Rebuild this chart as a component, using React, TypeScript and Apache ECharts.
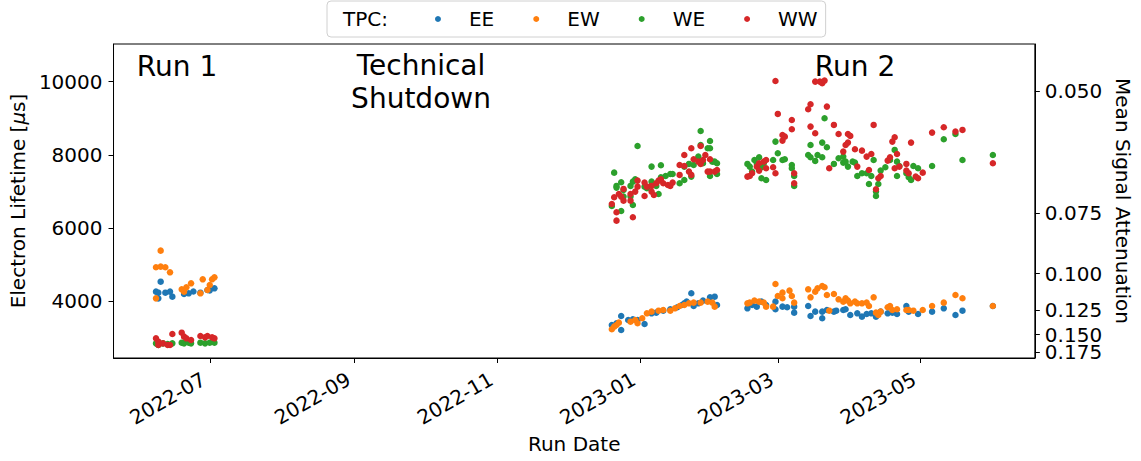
import React, { useEffect, useRef } from "react";
import * as echarts from "echarts";

const FONT = "DejaVu Sans";

// ---- data (date, electron lifetime in µs) ----
const eeRun1: [string, number][] = [
  ["2022-06-10", 4528], ["2022-06-08", 4255], ["2022-06-09", 4227], ["2022-06-12", 4227],
  ["2022-06-09", 4072], ["2022-06-15", 4118], ["2022-06-14", 4255], ["2022-06-20", 4191],
  ["2022-06-22", 4209], ["2022-06-27", 4227], ["2022-06-30", 4300], ["2022-07-03", 4346],
  ["2022-06-24", 4260], ["2022-07-01", 4290],
];
const eeRun2: [string, number][] = [
  ["2022-12-20", 3343], ["2022-12-22", 3389], ["2022-12-24", 3589], ["2022-12-24", 3206],
  ["2022-12-27", 3480], ["2022-12-29", 3498], ["2022-12-31", 3480], ["2023-01-03", 3371],
  ["2023-01-06", 3662], ["2023-01-08", 3681], ["2023-01-11", 3735], ["2023-01-14", 3772],
  ["2023-01-17", 3827], ["2023-01-19", 3890], ["2023-01-20", 3936], ["2023-01-21", 3982],
  ["2023-01-23", 4210], ["2023-01-24", 3863], ["2023-01-26", 3936], ["2023-01-28", 4009],
  ["2023-01-31", 4100], ["2023-02-02", 4118], ["2023-02-03", 3890],
  ["2023-02-16", 3799], ["2023-02-18", 3890], ["2023-02-20", 3845], ["2023-02-22", 3982],
  ["2023-02-24", 3890], ["2023-02-28", 3982], ["2023-02-28", 3772], ["2023-03-03", 3845],
  ["2023-03-05", 3827], ["2023-03-08", 3845], ["2023-03-08", 3681], ["2023-03-14", 3863],
  ["2023-03-15", 3589], ["2023-03-17", 3708], ["2023-03-20", 3708], ["2023-03-20", 3526],
  ["2023-03-22", 3754], ["2023-03-25", 3708], ["2023-03-26", 3735], ["2023-03-29", 3754],
  ["2023-03-30", 3772], ["2023-04-01", 3617], ["2023-04-04", 3662], ["2023-04-06", 3571],
  ["2023-04-08", 3644], ["2023-04-10", 3662], ["2023-04-12", 3571], ["2023-04-14", 3708],
  ["2023-04-17", 3662], ["2023-04-19", 3681], ["2023-04-21", 3644], ["2023-04-25", 3863],
  ["2023-04-26", 3708], ["2023-04-30", 3644], ["2023-05-06", 3708], ["2023-05-11", 3799],
  ["2023-05-16", 3617], ["2023-05-19", 3735], ["2023-06-01", 3863],
];

const ewRun1: [string, number][] = [
  ["2022-06-10", 5377], ["2022-06-08", 4921], ["2022-06-10", 4939], ["2022-06-12", 4921],
  ["2022-06-14", 4784], ["2022-06-08", 4072], ["2022-06-19", 4319], ["2022-06-21", 4373],
  ["2022-06-23", 4483], ["2022-06-28", 4592], ["2022-07-02", 4592], ["2022-07-03", 4647],
  ["2022-07-01", 4437], ["2022-06-30", 4300], ["2022-06-27", 4209], ["2022-06-20", 4255],
];
const ewRun2: [string, number][] = [
  ["2022-12-20", 3225], ["2022-12-21", 3298], ["2022-12-22", 3343], ["2022-12-23", 3407],
  ["2022-12-28", 3434], ["2022-12-30", 3480], ["2022-12-31", 3389], ["2023-01-02", 3526],
  ["2023-01-04", 3662], ["2023-01-06", 3708], ["2023-01-09", 3735], ["2023-01-11", 3754],
  ["2023-01-14", 3735], ["2023-01-16", 3799], ["2023-01-18", 3863], ["2023-01-20", 3890],
  ["2023-01-22", 3936], ["2023-01-24", 3954], ["2023-01-27", 3954], ["2023-01-30", 3982],
  ["2023-02-01", 3954], ["2023-02-02", 3845],
  ["2023-02-16", 3936], ["2023-02-17", 3954], ["2023-02-19", 4009], ["2023-02-21", 3982],
  ["2023-02-23", 3954], ["2023-02-24", 3845], ["2023-02-27", 3845], ["2023-02-28", 4465],
  ["2023-03-01", 4137], ["2023-03-03", 4228], ["2023-03-03", 4073], ["2023-03-06", 4283],
  ["2023-03-07", 4137], ["2023-03-08", 3954], ["2023-03-14", 4319], ["2023-03-15", 4100],
  ["2023-03-17", 4255], ["2023-03-18", 4346], ["2023-03-20", 4410], ["2023-03-21", 4374],
  ["2023-03-22", 4164], ["2023-03-23", 3735], ["2023-03-25", 4191], ["2023-03-27", 4045],
  ["2023-03-29", 3982], ["2023-03-30", 4073], ["2023-03-31", 4009], ["2023-04-01", 3936],
  ["2023-04-03", 3982], ["2023-04-04", 3936], ["2023-04-06", 3936], ["2023-04-08", 3954],
  ["2023-04-09", 3863], ["2023-04-11", 4100], ["2023-04-12", 3681], ["2023-04-13", 3617],
  ["2023-04-14", 3708], ["2023-04-17", 3827], ["2023-04-18", 3863], ["2023-04-19", 3754],
  ["2023-04-21", 3772], ["2023-04-25", 3754], ["2023-04-26", 3754], ["2023-04-28", 3735],
  ["2023-05-02", 3754], ["2023-05-06", 3863], ["2023-05-11", 3954], ["2023-05-16", 4164],
  ["2023-05-19", 4073], ["2023-06-01", 3863],
];

const weRun1: [string, number][] = [
  ["2022-06-08", 2841], ["2022-06-09", 2796], ["2022-06-11", 2841], ["2022-06-13", 2820],
  ["2022-06-15", 2841], ["2022-06-19", 2859], ["2022-06-20", 2841], ["2022-06-22", 2859],
  ["2022-06-23", 2841], ["2022-06-27", 2859], ["2022-06-29", 2841], ["2022-07-01", 2859],
  ["2022-07-03", 2859],
];
const weRun2: [string, number][] = [
  ["2022-12-21", 7511], ["2022-12-22", 7147], ["2022-12-22", 7101], ["2022-12-24", 7247],
  ["2022-12-25", 7037], ["2022-12-25", 6855], ["2022-12-24", 6463], ["2022-12-20", 6599],
  ["2022-12-28", 7147], ["2022-12-29", 7265], ["2022-12-30", 7329], ["2022-12-31", 8241],
  ["2022-12-28", 6855], ["2022-12-29", 6627], ["2023-01-03", 7128], ["2023-01-04", 7083],
  ["2023-01-06", 7676], ["2023-01-06", 7265], ["2023-01-08", 7147], ["2023-01-09", 6928],
  ["2023-01-10", 7712], ["2023-01-10", 7384], ["2023-01-12", 7420], ["2023-01-14", 7475],
  ["2023-01-15", 7475], ["2023-01-18", 7220], ["2023-01-20", 7311], ["2023-01-20", 7676],
  ["2023-01-22", 7749], ["2023-01-23", 7402], ["2023-01-24", 7721], ["2023-01-26", 7949],
  ["2023-01-27", 8651], ["2023-01-27", 8268], ["2023-01-28", 7767], ["2023-01-30", 8177],
  ["2023-01-31", 8378], ["2023-01-31", 8177], ["2023-02-01", 7812], ["2023-02-02", 7812],
  ["2023-02-03", 7767], ["2023-01-31", 7420], ["2023-02-03", 7475],
  ["2023-02-16", 7749], ["2023-02-17", 7676], ["2023-02-18", 7539], ["2023-02-19", 7858],
  ["2023-02-21", 7931], ["2023-02-20", 7767], ["2023-02-22", 7356], ["2023-02-24", 7311],
  ["2023-02-22", 7657], ["2023-02-23", 7767], ["2023-02-27", 7858], ["2023-02-28", 8360],
  ["2023-03-01", 8040], ["2023-03-03", 7858], ["2023-03-04", 7876], ["2023-03-07", 7721],
  ["2023-03-07", 7630], ["2023-03-08", 7420], ["2023-03-08", 7147], ["2023-03-14", 7995],
  ["2023-03-15", 7931], ["2023-03-15", 8268], ["2023-03-17", 7831], ["2023-03-18", 7995],
  ["2023-03-20", 7931], ["2023-03-20", 8332], ["2023-03-22", 8205], ["2023-03-21", 8998],
  ["2023-03-25", 7749], ["2023-03-27", 7904], ["2023-03-29", 7949], ["2023-03-29", 7785],
  ["2023-03-30", 7812], ["2023-03-31", 7676], ["2023-04-02", 7812], ["2023-04-04", 7420],
  ["2023-04-03", 7785], ["2023-04-06", 7493], ["2023-04-08", 7493], ["2023-04-09", 7201],
  ["2023-04-10", 7420], ["2023-04-11", 7858], ["2023-04-12", 6992], ["2023-04-12", 6873],
  ["2023-04-13", 7201], ["2023-04-14", 7566], ["2023-04-16", 7657], ["2023-04-18", 7858],
  ["2023-04-20", 8132], ["2023-04-21", 7812], ["2023-04-22", 7694], ["2023-04-21", 7420],
  ["2023-04-25", 7493], ["2023-04-26", 7384], ["2023-04-27", 7311], ["2023-04-28", 7694],
  ["2023-04-30", 7630], ["2023-05-06", 7694], ["2023-05-11", 8423], ["2023-05-16", 8569],
  ["2023-05-19", 7858], ["2023-06-01", 7995],
];

const wwRun1: [string, number][] = [
  ["2022-06-08", 2978], ["2022-06-09", 2887], ["2022-06-09", 2796], ["2022-06-11", 2841],
  ["2022-06-13", 2796], ["2022-06-14", 2796], ["2022-06-15", 3097], ["2022-06-19", 3133],
  ["2022-06-20", 3024], ["2022-06-21", 2978], ["2022-06-23", 2932], ["2022-06-27", 3042],
  ["2022-06-29", 3005], ["2022-06-30", 3042], ["2022-07-02", 3005], ["2022-07-03", 2978],
];
const wwRun2: [string, number][] = [
  ["2022-12-20", 6654], ["2022-12-21", 6837], ["2022-12-22", 6426], ["2022-12-22", 6198],
  ["2022-12-23", 6928], ["2022-12-24", 6855], ["2022-12-25", 7065], ["2022-12-25", 6745],
  ["2022-12-28", 6745], ["2022-12-28", 6928], ["2022-12-29", 6289], ["2022-12-30", 6992],
  ["2022-12-31", 7128], ["2022-12-31", 7293], ["2023-01-03", 7238], ["2023-01-03", 6873],
  ["2023-01-04", 7128], ["2023-01-06", 6992], ["2023-01-06", 7147], ["2023-01-07", 6900],
  ["2023-01-08", 7220], ["2023-01-09", 7293], ["2023-01-10", 7329], ["2023-01-11", 7220],
  ["2023-01-13", 7174], ["2023-01-14", 7147], ["2023-01-15", 7238], ["2023-01-18", 7721],
  ["2023-01-18", 7448], ["2023-01-20", 7694], ["2023-01-20", 7995], ["2023-01-22", 7539],
  ["2023-01-23", 7448], ["2023-01-23", 8177], ["2023-01-24", 7876], ["2023-01-26", 7812],
  ["2023-01-27", 7749], ["2023-01-27", 8241], ["2023-01-28", 7858], ["2023-01-29", 7995],
  ["2023-01-31", 7876], ["2023-01-30", 7539], ["2023-01-31", 7539], ["2023-02-02", 7539],
  ["2023-02-03", 7584],
  ["2023-02-28", 10019], ["2023-02-16", 7402], ["2023-02-17", 7420], ["2023-02-18", 7493],
  ["2023-02-20", 7676], ["2023-02-21", 7767], ["2023-02-23", 7812], ["2023-02-24", 7858],
  ["2023-02-21", 7566], ["2023-02-24", 7630], ["2023-02-27", 7657], ["2023-02-28", 7493],
  ["2023-03-01", 9117], ["2023-03-03", 8542], ["2023-03-03", 8387], ["2023-03-04", 8496],
  ["2023-03-07", 8952], ["2023-03-07", 8697], ["2023-03-08", 7493], ["2023-03-08", 7220],
  ["2023-03-14", 9244], ["2023-03-15", 9381], ["2023-03-15", 8770], ["2023-03-17", 8588],
  ["2023-03-17", 10001], ["2023-03-19", 10001], ["2023-03-20", 9956], ["2023-03-21", 10029],
  ["2023-03-22", 9317], ["2023-03-23", 7630], ["2023-03-25", 8816], ["2023-03-27", 8569],
  ["2023-03-29", 8086], ["2023-03-30", 8268], ["2023-03-31", 8569], ["2023-04-01", 8515],
  ["2023-03-31", 8332], ["2023-04-03", 8150], ["2023-04-04", 7676], ["2023-04-06", 8113],
  ["2023-04-08", 7949], ["2023-04-09", 7584], ["2023-04-10", 8022], ["2023-04-11", 8816],
  ["2023-04-12", 7056], ["2023-04-13", 7356], ["2023-04-14", 7420], ["2023-04-17", 7840],
  ["2023-04-18", 7931], ["2023-04-19", 8360], ["2023-04-20", 8478], ["2023-04-21", 8022],
  ["2023-04-20", 7630], ["2023-04-22", 7676], ["2023-04-25", 7749], ["2023-04-25", 7566],
  ["2023-04-27", 8332], ["2023-04-26", 7493], ["2023-04-30", 7356], ["2023-04-29", 7402],
  ["2023-05-02", 7511], ["2023-05-06", 8606], ["2023-05-11", 8752], ["2023-05-16", 8633],
  ["2023-05-19", 8679], ["2023-06-01", 7767],
];

// ---- axes ----
const xTickDates = ["2022-07-01", "2022-09-01", "2022-11-01", "2023-01-01", "2023-03-01", "2023-05-01"];
const xMinDate = "2022-05-20T20:00:00Z";
const xMaxDate = "2023-06-18T23:00:00Z";
const yMin = 2440;
const yMax = 11030;
const lifetimeTicks = [4000, 6000, 8000, 10000];
const attenuationTicks = [0.05, 0.075, 0.1, 0.125, 0.15, 0.175];
const MEAN_DRIFT_US = 500; // attenuation = 1 - exp(-t / lifetime)

const tpcNames = ["EE", "EW", "WE", "WW"];
const tpcColors = ["#1f77b4", "#ff7f0e", "#2ca02c", "#d62728"];
const tpcData = [
  [...eeRun1, ...eeRun2],
  [...ewRun1, ...ewRun2],
  [...weRun1, ...weRun2],
  [...wwRun1, ...wwRun2],
];

const toTs = (d: string) => Date.parse(d.length === 10 ? d + "T00:00:00Z" : d);
const attToLifetime = (a: number) => -MEAN_DRIFT_US / Math.log(1 - a);
const lifetimeToAtt = (t: number) => 1 - Math.exp(-MEAN_DRIFT_US / t);

export default function App() {
  const ref = useRef<HTMLDivElement>(null);
  useEffect(() => {
    if (!ref.current) return;
    const chart = echarts.init(ref.current, undefined, { renderer: "svg" });
    const txt = { color: "#000", fontFamily: FONT, fontSize: 20 };
    const axisLine = { show: true, lineStyle: { color: "#000", width: 1 } };
    // right-axis labels are split over two overlaid axes so that the tightly
    // packed 0.150 / 0.175 labels are both kept
    const rightTickPos = attenuationTicks.map(attToLifetime);
    const rightLabelsA = rightTickPos.filter((_, i) => i % 2 === 0);
    const rightLabelsB = rightTickPos.filter((_, i) => i % 2 === 1);
    const rightLabel = (values: number[]) => ({
      ...txt, margin: 10, hideOverlap: false, lineHeight: 16,
      customValues: values,
      formatter: (v: number) => lifetimeToAtt(v).toFixed(3),
    });
    const option: any = {
      animation: false,
      backgroundColor: "#fff",
      textStyle: { fontFamily: FONT },
      grid: {
        left: 113, right: 102, top: 44, bottom: 103,
        show: true, borderColor: "#000", borderWidth: 1, backgroundColor: "transparent",
      },
      legend: {
        left: 327, top: 1,
        orient: "horizontal",
        padding: [8, 8, 8, 5],
        itemGap: 39,
        itemWidth: 6, itemHeight: 6,
        borderColor: "#d0d0d0", borderWidth: 1, borderRadius: 4,
        backgroundColor: "#fff",
        selectedMode: false,
        data: [
          { name: "TPC:", icon: "none" },
          ...tpcNames.map((n) => ({ name: n, icon: "circle" })),
        ],
        formatter: (name: string) => (name === "TPC:" ? `{t|${name}}` : `{s|${name}}`),
        textStyle: {
          ...txt,
          rich: {
            t: { ...txt, lineHeight: 20, padding: [0, 8, 0, 0] },
            s: { ...txt, lineHeight: 20, padding: [0, 0, 0, 23] },
          },
        },
      },
      xAxis: {
        type: "value",
        min: toTs(xMinDate), max: toTs(xMaxDate),
        axisLine,
        splitLine: { show: false },
        axisTick: { show: true, length: 5, lineStyle: { color: "#000" }, customValues: xTickDates.map(toTs) },
        axisLabel: {
          ...txt,
          rotate: 30, margin: 16, padding: [0, 7, 0, 0],
          hideOverlap: false,
          customValues: xTickDates.map(toTs),
          formatter: (v: number) => {
            const d = new Date(v);
            return `${d.getUTCFullYear()}-${String(d.getUTCMonth() + 1).padStart(2, "0")}`;
          },
        },
        name: "Run Date",
        nameLocation: "middle",
        nameGap: 75,
        nameTextStyle: txt,
      },
      yAxis: [
        {
          type: "value", min: yMin, max: yMax, position: "left",
          axisLine, splitLine: { show: false },
          axisTick: { show: true, length: 5, lineStyle: { color: "#000" }, customValues: lifetimeTicks },
          axisLabel: { ...txt, margin: 11, hideOverlap: false, customValues: lifetimeTicks, formatter: (v: number) => String(v) },
          name: "Electron Lifetime [{i|μ}s]",
          nameLocation: "middle", nameRotate: 90, nameGap: 84,
          nameTextStyle: { ...txt, rich: { i: { ...txt, fontStyle: "italic" } } },
        },
        {
          type: "value", min: yMin, max: yMax, position: "right",
          axisLine, splitLine: { show: false },
          axisTick: { show: true, length: 5, lineStyle: { color: "#000" }, customValues: rightTickPos },
          axisLabel: rightLabel(rightLabelsA),
          name: "Mean Signal Attenuation",
          nameLocation: "middle", nameRotate: -90, nameGap: 72,
          nameTextStyle: txt,
        },
        {
          type: "value", min: yMin, max: yMax, position: "right", offset: 0,
          axisLine: { show: false }, splitLine: { show: false },
          axisTick: { show: false },
          axisLabel: rightLabel(rightLabelsB),
        },
      ],
      series: [
        { type: "scatter", name: "TPC:", data: [], itemStyle: { color: "transparent" } },
        ...tpcNames.map((n, i) => ({
          type: "scatter",
          name: n,
          symbol: "circle",
          symbolSize: 6.5,
          itemStyle: { color: tpcColors[i], opacity: 1 },
          emphasis: { disabled: true },
          data: tpcData[i].map(([d, v]) => [toTs(d), v]),
        })),
      ],
      graphic: [
        { type: "text", x: 177, y: 66, style: { text: "Run 1", fill: "#000", font: `28px "${FONT}"`, align: "center", verticalAlign: "middle" } },
        { type: "text", x: 421, y: 82, style: { text: "Technical\nShutdown", fill: "#000", font: `28px "${FONT}"`, align: "center", verticalAlign: "middle", lineHeight: 33 } },
        { type: "text", x: 855, y: 66, style: { text: "Run 2", fill: "#000", font: `28px "${FONT}"`, align: "center", verticalAlign: "middle" } },
      ],
    };
    chart.setOption(option);
    return () => chart.dispose();
  }, []);
  return (
    <div
      ref={ref}
      style={{ position: "fixed", left: 0, top: 0, width: 1141, height: 461, background: "#fff" }}
    />
  );
}
